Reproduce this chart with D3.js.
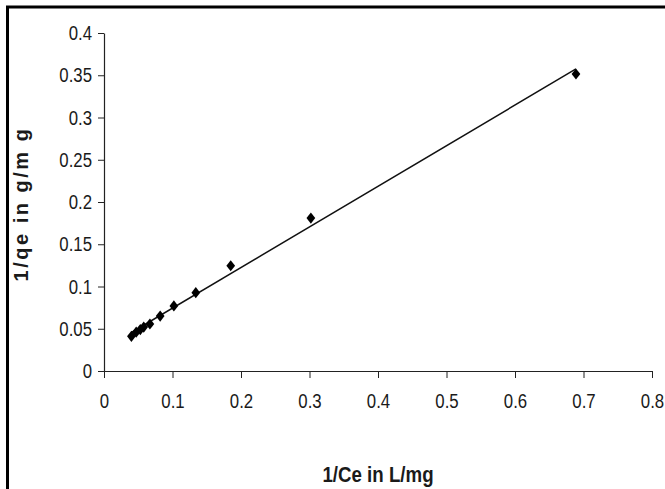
<!DOCTYPE html>
<html>
<head>
<meta charset="utf-8">
<script src="https://cdn.jsdelivr.net/npm/d3@7"></script>
<style>
  body { margin: 0; background: #fff; }
  .tick text { font-family: "Liberation Sans", Arial, sans-serif; font-size: 21px; fill: #1a1a1a; }
  .axis path, .axis line { stroke: #222; }
</style>
</head>
<body>
<div id="chart"></div>
<script>
// 1/Ce (L/mg) and 1/qe (g/mg)
var invCe = [0.040, 0.047, 0.053, 0.058, 0.067, 0.082, 0.102, 0.134, 0.185, 0.302, 0.689];
var invQe = [0.041, 0.046, 0.049, 0.052, 0.0556, 0.065, 0.077, 0.0927, 0.1246, 0.181, 0.3515];
var xTicks = [0, 0.1, 0.2, 0.3, 0.4, 0.5, 0.6, 0.7, 0.8];
var yTicks = [0, 0.05, 0.1, 0.15, 0.2, 0.25, 0.3, 0.35, 0.4];

var points = invCe.map(function (d, i) { return { x: d, y: invQe[i] }; });

var W = 665, H = 489;
var margin = { top: 33, right: 13, bottom: 118, left: 104 },
    width = W - margin.left - margin.right,
    height = H - margin.top - margin.bottom;
var squeeze = 0.8; // narrow look of the tick font

var svg = d3.select("#chart")
    .append("svg")
    .attr("width", W)
    .attr("height", H);

// frame (left and top edges visible)
svg.append("line").attr("x1", 7.5).attr("x2", 7.5).attr("y1", 6).attr("y2", H)
    .attr("stroke", "#000").attr("stroke-width", 3);
svg.append("line").attr("x1", 6).attr("x2", W).attr("y1", 7).attr("y2", 7)
    .attr("stroke", "#000").attr("stroke-width", 3);

var g = svg.append("g")
    .attr("transform", "translate(" + margin.left + "," + margin.top + ")");

var x = d3.scaleLinear().domain([0, 0.8]).range([0, width]);
var y = d3.scaleLinear().domain([0, 0.4]).range([height, 0]);

var fmt = function (d) { return d3.format("")(+d.toFixed(2)); };

// X axis
g.append("g")
    .attr("class", "axis")
    .attr("transform", "translate(0," + height + ")")
    .call(d3.axisBottom(x).tickValues(xTicks).tickSize(7).tickSizeOuter(0).tickPadding(15).tickFormat(fmt))
    .call(function (a) {
        a.selectAll(".tick text").attr("dy", "0.72em")
            .attr("transform", "scale(" + squeeze + ",1)");
    });

// Y axis
g.append("g")
    .attr("class", "axis")
    .call(d3.axisLeft(y).tickValues(yTicks).tickSize(6).tickSizeOuter(0).tickPadding(6).tickFormat(fmt))
    .call(function (a) {
        a.selectAll(".tick text")
            .attr("x", -12 / squeeze)
            .attr("transform", "scale(" + squeeze + ",1)");
    });

g.selectAll(".domain").attr("stroke-width", 1.2);

// least squares trend line
var mx = d3.mean(points, d => d.x),
    my = d3.mean(points, d => d.y);
var slope = d3.sum(points, d => (d.x - mx) * (d.y - my)) / d3.sum(points, d => (d.x - mx) * (d.x - mx));
var intercept = my - slope * mx;
var ext = d3.extent(points, d => d.x);

g.append("path")
    .datum(ext)
    .attr("fill", "none")
    .attr("stroke", "#111")
    .attr("stroke-width", 1.5)
    .attr("d", d3.line()
        .x(function (d) { return x(d); })
        .y(function (d) { return y(intercept + slope * d); }));

// markers
g.selectAll(".pt").data(points)
    .enter()
    .append("path")
    .attr("class", "pt")
    .attr("d", d3.symbol().type(d3.symbolDiamond2).size(60))
    .attr("transform", d => "translate(" + x(d.x) + "," + y(d.y) + ") scale(0.9,1.15)")
    .attr("fill", "#000");

// axis titles
svg.append("text")
    .attr("transform", "translate(378,482) scale(0.85,1)")
    .attr("text-anchor", "middle")
    .style("font-family", "'Liberation Sans', Arial, sans-serif")
    .style("font-weight", "bold")
    .style("font-size", "22px")
    .attr("fill", "#1a1a1a")
    .text("1/Ce in L/mg");

svg.append("text")
    .attr("transform", "translate(28,204) rotate(-90)")
    .attr("text-anchor", "middle")
    .style("font-family", "'Liberation Sans', Arial, sans-serif")
    .style("font-weight", "bold")
    .style("font-size", "20px")
    .style("letter-spacing", "2.5px")
    .attr("fill", "#1a1a1a")
    .text("1/qe in g/m g");
</script>
</body>
</html>
